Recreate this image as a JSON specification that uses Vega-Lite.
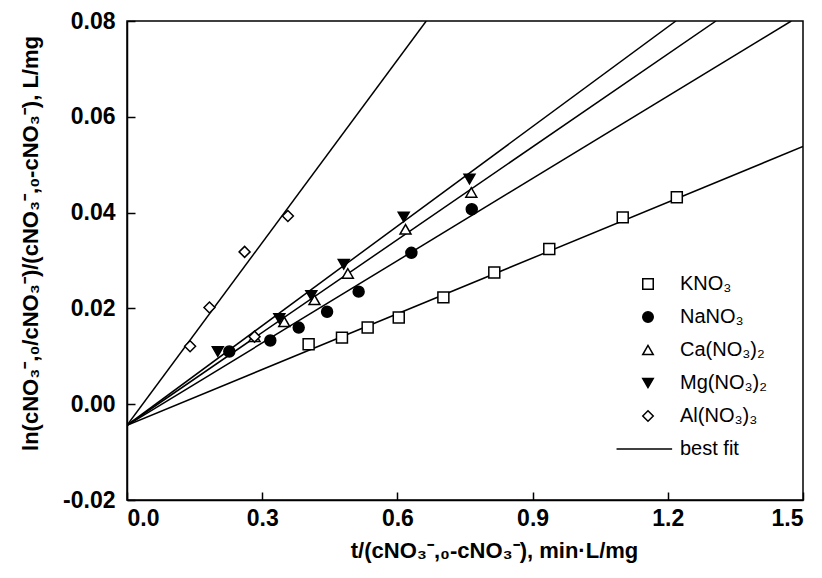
{
  "$schema": "https://vega.github.io/schema/vega-lite/v6.json",
  "width": 676,
  "height": 479,
  "padding": {"left": 127, "top": 21, "right": 19, "bottom": 78},
  "autosize": {"type": "none"},
  "background": "white",
  "config": {
    "view": {"stroke": "black", "strokeWidth": 1.5},
    "font": "Liberation Sans",
    "axis": {
      "domainColor": "black", "domainWidth": 1.5,
      "grid": false, "zindex": 1,
      "labelFont": "Liberation Sans", "labelFontWeight": "bold", "labelFontSize": 23, "labelColor": "black",
      "titleFont": "Liberation Sans", "titleFontWeight": "bold", "titleFontSize": 22, "titleColor": "black"
    }
  },
  "datasets": {
    "pts": [
      {"salt": "KNO₃", "x": 0.403, "y": 0.0125},
      {"salt": "KNO₃", "x": 0.477, "y": 0.0139},
      {"salt": "KNO₃", "x": 0.534, "y": 0.0160},
      {"salt": "KNO₃", "x": 0.603, "y": 0.0181},
      {"salt": "KNO₃", "x": 0.702, "y": 0.0223},
      {"salt": "KNO₃", "x": 0.815, "y": 0.0275},
      {"salt": "KNO₃", "x": 0.937, "y": 0.0324},
      {"salt": "KNO₃", "x": 1.100, "y": 0.0390},
      {"salt": "KNO₃", "x": 1.220, "y": 0.0432},
      {"salt": "NaNO₃", "x": 0.227, "y": 0.0110},
      {"salt": "NaNO₃", "x": 0.318, "y": 0.0133},
      {"salt": "NaNO₃", "x": 0.381, "y": 0.0160},
      {"salt": "NaNO₃", "x": 0.444, "y": 0.0193},
      {"salt": "NaNO₃", "x": 0.514, "y": 0.0235},
      {"salt": "NaNO₃", "x": 0.631, "y": 0.0316},
      {"salt": "NaNO₃", "x": 0.765, "y": 0.0407},
      {"salt": "Ca(NO₃)₂", "x": 0.283, "y": 0.0141},
      {"salt": "Ca(NO₃)₂", "x": 0.349, "y": 0.0172},
      {"salt": "Ca(NO₃)₂", "x": 0.416, "y": 0.0218},
      {"salt": "Ca(NO₃)₂", "x": 0.490, "y": 0.0273},
      {"salt": "Ca(NO₃)₂", "x": 0.618, "y": 0.0365},
      {"salt": "Ca(NO₃)₂", "x": 0.764, "y": 0.0442},
      {"salt": "Mg(NO₃)₂", "x": 0.2015, "y": 0.0110},
      {"salt": "Mg(NO₃)₂", "x": 0.338, "y": 0.0179},
      {"salt": "Mg(NO₃)₂", "x": 0.409, "y": 0.0227},
      {"salt": "Mg(NO₃)₂", "x": 0.481, "y": 0.0292},
      {"salt": "Mg(NO₃)₂", "x": 0.614, "y": 0.0391},
      {"salt": "Mg(NO₃)₂", "x": 0.760, "y": 0.0470},
      {"salt": "Al(NO₃)₃", "x": 0.140, "y": 0.0121},
      {"salt": "Al(NO₃)₃", "x": 0.183, "y": 0.0202},
      {"salt": "Al(NO₃)₃", "x": 0.261, "y": 0.0318},
      {"salt": "Al(NO₃)₃", "x": 0.357, "y": 0.0393},
      {"salt": "Al(NO₃)₃", "x": 0.283, "y": 0.0141}
    ],
    "fits": [
      {"salt": "KNO₃", "x": 0, "y": -0.0044},
      {"salt": "KNO₃", "x": 1.5, "y": 0.0538},
      {"salt": "NaNO₃", "x": 0, "y": -0.0044},
      {"salt": "NaNO₃", "x": 1.474, "y": 0.08},
      {"salt": "Ca(NO₃)₂", "x": 0, "y": -0.0044},
      {"salt": "Ca(NO₃)₂", "x": 1.307, "y": 0.08},
      {"salt": "Mg(NO₃)₂", "x": 0, "y": -0.0044},
      {"salt": "Mg(NO₃)₂", "x": 1.218, "y": 0.08},
      {"salt": "Al(NO₃)₃", "x": 0, "y": -0.0044},
      {"salt": "Al(NO₃)₃", "x": 0.664, "y": 0.08}
    ]
  },
  "layer": [
    {
      "data": {"name": "fits"},
      "mark": {"type": "line", "color": "black", "strokeWidth": 1.5, "clip": true},
      "encoding": {
        "x": {"field": "x", "type": "quantitative"},
        "y": {"field": "y", "type": "quantitative"},
        "detail": {"field": "salt"}
      }
    },
    {
      "data": {"name": "pts"},
      "mark": {"type": "point", "filled": true, "stroke": "black", "strokeWidth": 1.5, "size": 120, "opacity": 1},
      "encoding": {
        "x": {
          "field": "x", "type": "quantitative",
          "scale": {"domain": [0, 1.5], "nice": false, "zero": false},
          "axis": {"values": [0, 0.3, 0.6, 0.9, 1.2, 1.5], "format": ".1f", "labelPadding": 15,
                   "ticks": true, "tickSize": -8, "tickWidth": 1.5, "tickColor": "black",
                   "title": "t/(cNO₃⁻,₀-cNO₃⁻), min·L/mg", "titlePadding": 10, "titleX": 367}
        },
        "y": {
          "field": "y", "type": "quantitative",
          "scale": {"domain": [-0.02, 0.08], "nice": false, "zero": false},
          "axis": {"values": [-0.02, 0, 0.02, 0.04, 0.06, 0.08],
                   "ticks": true, "tickSize": -8, "tickWidth": 1.5, "tickColor": "black",
                   "labelExpr": "replace(format(datum.value, '.2f'), '−', '-')", "labelPadding": 20,
                   "title": "ln(cNO₃⁻,₀/cNO₃⁻)/(cNO₃⁻,₀-cNO₃⁻), L/mg", "titlePadding": 20, "titleY": 222}
        },
        "shape": {
          "field": "salt", "type": "nominal",
          "scale": {
            "domain": ["KNO₃", "NaNO₃", "Ca(NO₃)₂", "Mg(NO₃)₂", "Al(NO₃)₃", "best fit"],
            "range": ["square", "circle", "triangle-up", "triangle-down", "diamond", "M-6,0L4.6,0"]
          },
          "legend": {
            "title": null, "orient": "none", "legendX": 511, "legendY": 253,
            "labelFont": "Liberation Sans", "labelFontSize": 20, "labelColor": "black",
            "symbolSize": 110, "rowPadding": 13, "labelOffset": 22, "padding": 0,
            "encode": {"symbols": {"update": {"stroke": {"value": "black"}, "strokeWidth": {"value": 1.5}}}}
          }
        },
        "fill": {
          "field": "salt", "type": "nominal",
          "scale": {
            "domain": ["KNO₃", "NaNO₃", "Ca(NO₃)₂", "Mg(NO₃)₂", "Al(NO₃)₃", "best fit"],
            "range": ["white", "black", "white", "black", "white", "transparent"]
          },
          "legend": null
        }
      }
    }
  ]
}
